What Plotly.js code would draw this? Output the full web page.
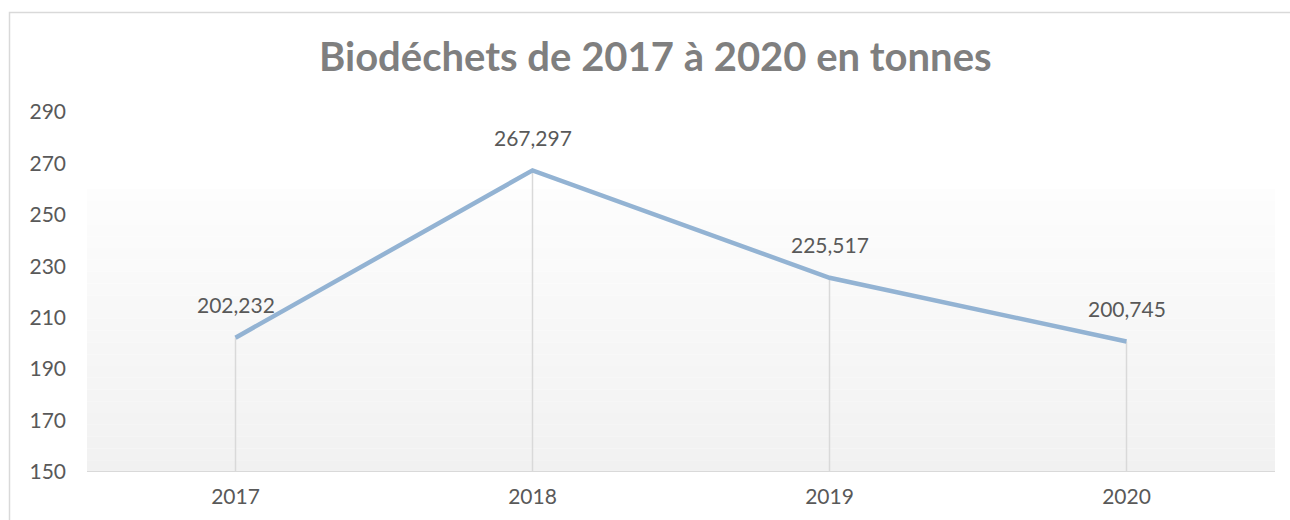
<!DOCTYPE html>
<html>
<head>
<meta charset="utf-8">
<script src="https://cdn.plot.ly/plotly-3.0.1.min.js"></script>
<style>
html,body{margin:0;padding:0;background:#fff;}
#chart{width:1290px;height:520px;}
</style>
</head>
<body>
<div id="chart"></div>
<script>
const years = ['2017', '2018', '2019', '2020'];
const tonnes = [202.232, 267.297, 225.517, 200.745];
const yTicks = [150, 170, 190, 210, 230, 250, 270, 290];
const titleText = 'Biodéchets de 2017 à 2020 en tonnes';

const yMin = 150, yMax = 290;
const fontFam = 'Lato, "Open Sans", sans-serif';
const textGray = '#595959';

// drop lines from each point to the axis
const dropX = [], dropY = [];
years.forEach((yr, i) => { dropX.push(yr, yr, null); dropY.push(yMin, tonnes[i], null); });

const traces = [
  {x: dropX, y: dropY, mode: 'lines', line: {color: '#d9d9d9', width: 1.5},
   hoverinfo: 'skip', showlegend: false, cliponaxis: false},
  {x: years, y: tonnes, mode: 'lines', line: {color: '#93b3d3', width: 4.5},
   showlegend: false, cliponaxis: false}
];

// background gradient bands
const shapes = [];
const nb = 24, gTop = 260;
for (let k = 0; k < nb; k++) {
  const y1 = gTop - (gTop - yMin) * k / nb;
  const y0 = gTop - (gTop - yMin) * (k + 1) / nb;
  const t = (k + 0.5) / nb;
  const c = Math.round(253 - 12 * t);
  shapes.push({type: 'rect', xref: 'paper', yref: 'y', x0: 0, x1: 1, y0: y0, y1: y1,
    fillcolor: `rgb(${c},${c},${c})`, line: {width: 0}, layer: 'below'});
}
// chart frame
shapes.push({type: 'rect', xref: 'paper', yref: 'paper',
  x0: -(87 - 9.5) / 1188, x1: 1.2, y0: -0.5, y1: 1 + (112 - 12.5) / 360,
  line: {color: '#d9d9d9', width: 1.5}, fillcolor: 'rgba(0,0,0,0)', layer: 'below'});

const annotations = years.map((yr, i) => ({
  x: i, y: tonnes[i], xref: 'x', yref: 'y', showarrow: false,
  text: tonnes[i].toFixed(3).replace('.', ','), yshift: 33,
  font: {family: fontFam, size: 21, color: textGray}
}));

const layout = {
  width: 1290, height: 520,
  margin: {l: 87, r: 15, t: 112, b: 48},
  paper_bgcolor: '#ffffff', plot_bgcolor: 'rgba(0,0,0,0)',
  title: {text: '<b>' + titleText + '</b>', x: 0.508, xanchor: 'center', y: 0.89, yanchor: 'middle',
    font: {family: fontFam, size: 40, color: '#7f7f7f'}},
  xaxis: {type: 'category', range: [-0.5, 3.5], showgrid: false, zeroline: false,
    showline: false, ticks: '', ticklabelstandoff: 10,
    tickfont: {family: fontFam, size: 21, color: textGray}},
  yaxis: {range: [yMin, yMax], tickvals: yTicks, showgrid: false, zeroline: false,
    showline: false, ticks: '', ticklabelstandoff: 20,
    tickfont: {family: fontFam, size: 21, color: textGray}},
  shapes: shapes.concat([{type: 'line', xref: 'paper', yref: 'y', x0: 0, x1: 1, y0: yMin, y1: yMin,
    line: {color: '#d9d9d9', width: 2}, layer: 'above'}]),
  annotations: annotations,
  showlegend: false
};

Plotly.newPlot('chart', traces, layout, {displayModeBar: false, staticPlot: true});
</script>
</body>
</html>
